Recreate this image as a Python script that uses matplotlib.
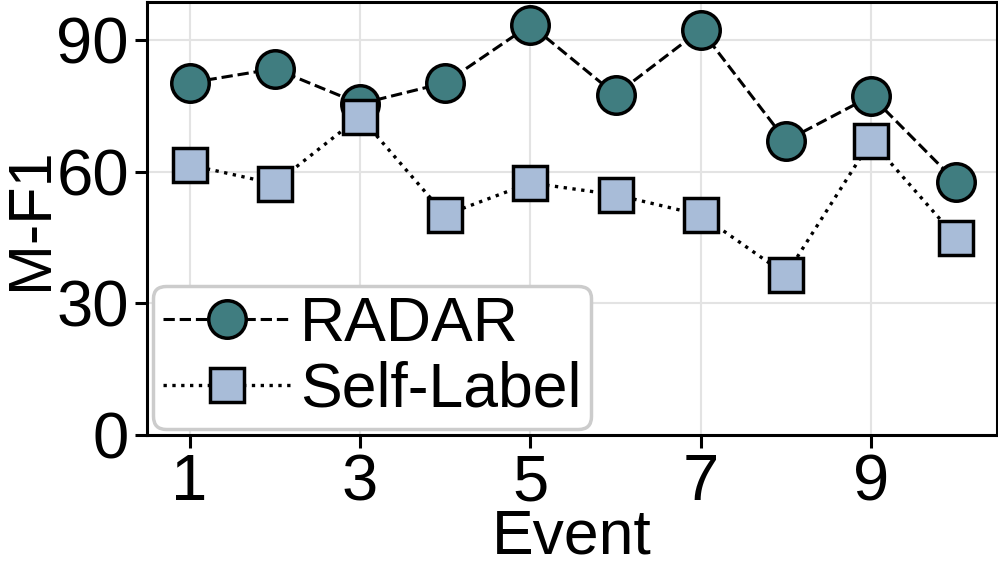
import matplotlib
matplotlib.use("Agg")
import matplotlib.pyplot as plt

events = [1, 2, 3, 4, 5, 6, 7, 8, 9, 10]
radar = [80.2, 83.4, 75.4, 80.2, 93.4, 77.5, 92.3, 67.0, 77.2, 57.6]
self_label = [61.5, 57.2, 72.5, 50.1, 57.4, 54.7, 50.1, 36.5, 67.0, 44.9]
xticks = [1, 3, 5, 7, 9]
yticks = [0, 30, 60, 90]

plt.rcParams['font.family'] = ['Liberation Sans', 'DejaVu Sans']

fig = plt.figure(figsize=(9.98, 5.67), dpi=100)
ax = fig.add_axes([0.1473, 0.2328, 0.852, 0.7637])

ax.plot(events, radar, linestyle='--', color='black', lw=2.2, marker='o',
        markersize=27, markerfacecolor='#407d80', markeredgecolor='black',
        markeredgewidth=2.5, label='RADAR', zorder=3)
ax.plot(events, self_label, linestyle=':', color='black', lw=2.4, marker='s',
        markersize=24, markerfacecolor='#a8bcd8', markeredgecolor='black',
        markeredgewidth=2.5, label='Self-Label', zorder=3)

ax.set_xlim(0.5, 10.48)
ax.set_ylim(0, 98.6)
ax.set_xticks(xticks)
ax.set_yticks(yticks)
ax.grid(True, color='#e3e3e3', lw=1.5, zorder=0)
ax.set_axisbelow(True)

for s in ax.spines.values():
    s.set_linewidth(2.2)
ax.tick_params(axis='both', direction='out', length=9, width=2.2, labelsize=47, pad=4)

ax.set_xlabel('Event', fontsize=45, labelpad=-4)
ax.set_ylabel('M-F1', fontsize=44, labelpad=-3)

leg = ax.legend(loc='lower left', fontsize=45, frameon=True, fancybox=True,
                handlelength=2.05, handletextpad=0.15, borderpad=0.15,
                labelspacing=0.1, borderaxespad=0.1)
leg.get_frame().set_edgecolor('#cccccc')
leg.get_frame().set_linewidth(2.5)
leg.get_frame().set_alpha(1)

fig.savefig('out.png', dpi=100)
